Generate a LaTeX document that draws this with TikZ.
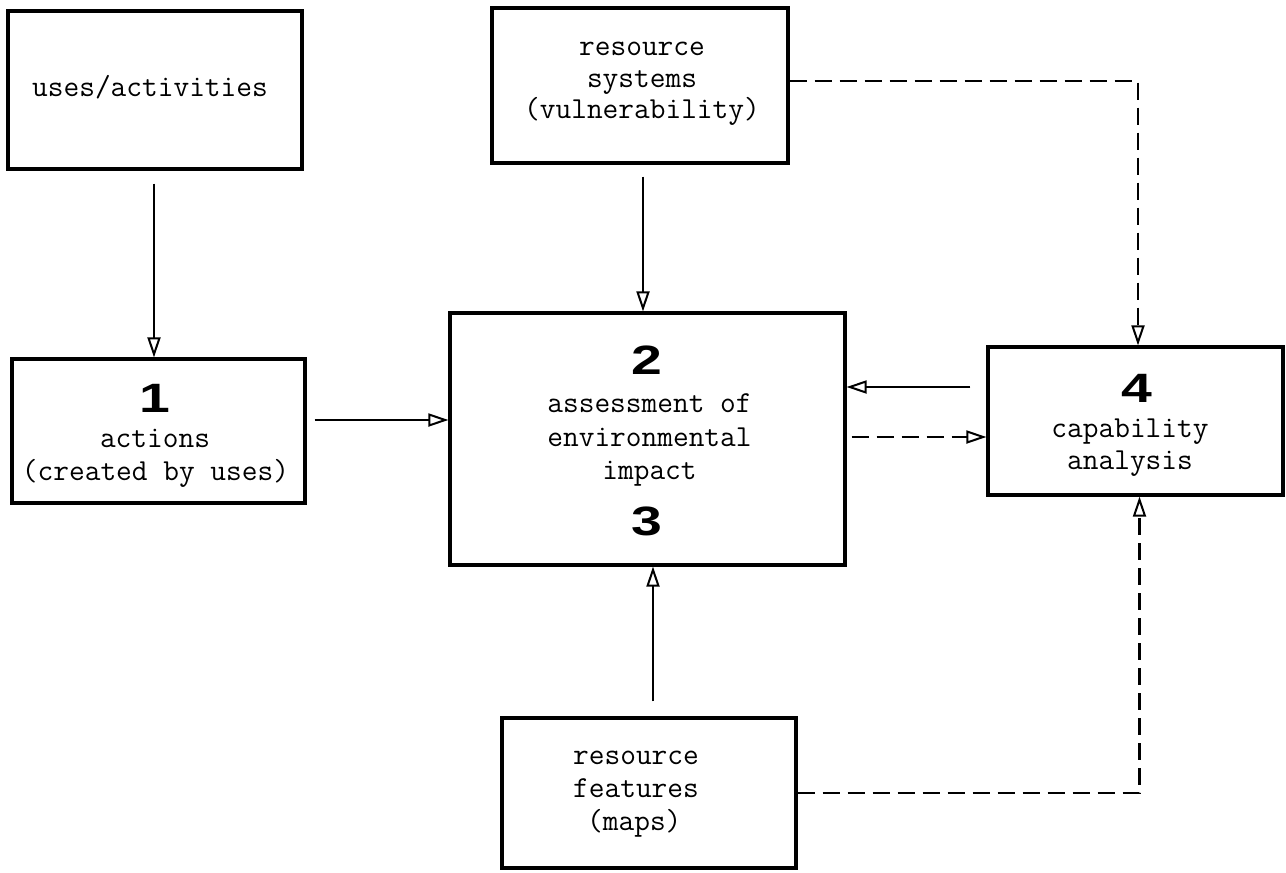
\documentclass[tikz,border=0pt]{standalone}
\usepackage{fontspec}
\usepackage{graphicx}
\usetikzlibrary{arrows.meta}
\newfontfamily\numfont{Liberation Sans}
\newcommand{\bignum}[1]{\scalebox{1.35}[1]{\numfont\bfseries #1}}
\tikzset{
  box/.style={draw, line width=3.2pt, inner sep=0pt},
  typ/.style={font=\ttfamily\fontsize{30.5}{31}\selectfont, anchor=base, inner sep=0pt},
  num/.style={font=\fontsize{41}{41}\selectfont, anchor=base, inner sep=0pt},
  conn/.style={line width=2pt, -{Triangle[open, length=20pt, width=13pt, line width=2pt]}},
  dconn/.style={conn, line width=2.6pt, dash pattern=on 17pt off 8pt}
}
\begin{document}
\begin{tikzpicture}[x=1pt, y=-1pt]
\useasboundingbox (0,0) rectangle (1286,873);
% boxes
\node[box, minimum width=294pt, minimum height=158pt] (ua) at (155,90) {};
\node[box, minimum width=293pt, minimum height=144pt] (a1) at (158.5,431) {};
\node[box, minimum width=296pt, minimum height=155pt] (rs) at (640,85.5) {};
\node[box, minimum width=395pt, minimum height=252pt] (main) at (647.5,439) {};
\node[box, minimum width=295pt, minimum height=148pt] (cap) at (1135.5,421) {};
\node[box, minimum width=294pt, minimum height=150pt] (rf) at (649,793) {};
% texts
\node[typ] (tua) at (150,96) {uses/activities};
\node[num] (n1) at (155,412) {\bignum{1}};
\node[typ] (ta1a) at (155,447) {actions};
\node[typ] (ta1b) at (155.5,480) {(created by uses)};
\node[typ] (trsa) at (642,55) {resource};
\node[typ] (trsb) at (642,87) {systems};
\node[typ] (trsc) at (642,118) {(vulnerability)};
\node[num] (n2) at (647,374) {\bignum{2}};
\node[typ] (tma) at (649.5,412) {assessment of};
\node[typ] (tmb) at (649.5,446) {environmental};
\node[typ] (tmc) at (649.5,479) {impact};
\node[num] (n3) at (647,535) {\bignum{3}};
\node[num] (n4) at (1137,402) {\bignum{4}};
\node[typ] (tca) at (1130,437) {capability};
\node[typ] (tcb) at (1130,469) {analysis};
\node[typ, anchor=base west] (trfa) at (573,764) {resource};
\node[typ, anchor=base west] (trfb) at (573,797) {features};
\node[typ, anchor=base west] (trfc) at (587,830) {(maps)};
% connectors
\coordinate (p1) at ([yshift=11pt]a1.east);
\coordinate (p2) at ([yshift=34pt]cap.west);
\coordinate (p3) at ([yshift=2pt]main.east);
\coordinate (p4) at ([yshift=4.5pt]rs.east);
\coordinate (c4) at ([xshift=2.5pt]cap.north);
\coordinate (c5) at ([xshift=4pt]cap.south);
\coordinate (q1) at ([xshift=-1pt]ua.south);
\coordinate (q2) at ([xshift=3pt]rs.south);
\coordinate (q3) at ([xshift=4pt]rf.north);
\draw[conn, shorten <=13pt] (q1) -- (q1 |- a1.north);
\draw[conn, shorten <=12pt] (q2) -- (q2 |- main.north);
\draw[conn, shorten <=15pt] (q3) -- (q3 |- main.south);
\draw[conn, shorten <=8pt] (p1) -- (p1 -| main.west);
\draw[conn, shorten <=16pt] (p2) -- (p2 -| main.east);
\draw[dconn, shorten <=5pt] (p3) -- (p3 -| cap.west);
\draw[dconn] (p4) -| (c4);
\draw[dconn] (rf.east) -| (c5);
\end{tikzpicture}
\end{document}
